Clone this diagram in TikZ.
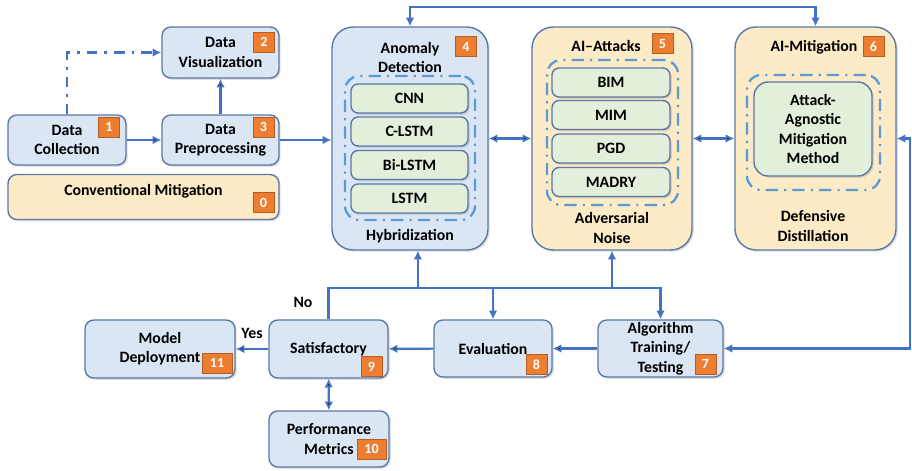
\documentclass[tikz,border=0pt]{standalone}
\usepackage{fontspec}
\setmainfont{Carlito}
\usetikzlibrary{arrows.meta,positioning,shadows}

\definecolor{boxblue}{HTML}{DAE6F4}
\definecolor{boxline}{HTML}{5A78A8}
\definecolor{boxyellow}{HTML}{FCEBC6}
\definecolor{boxgreen}{HTML}{E2EFDA}
\definecolor{badgeorange}{HTML}{ED7D31}
\definecolor{arrowblue}{HTML}{4472C4}
\definecolor{groupblue}{HTML}{5B9BD5}

\begin{document}
\begin{tikzpicture}[x=0.02cm,y=-0.02cm,
    font=\fontsize{9}{11}\selectfont\bfseries,
    box/.style={draw=boxline,line width=0.8pt,fill=boxblue,rounded corners=5pt,align=center,inner sep=0pt,
      drop shadow={shadow xshift=1pt,shadow yshift=-1pt,opacity=0.25}},
    panel/.style={box,rounded corners=12pt,minimum height=4.46cm},
    item/.style={box,fill=boxgreen,rounded corners=4pt,minimum width=2.34cm,minimum height=0.58cm},
    group/.style={draw=groupblue,line width=1.3pt,rounded corners=8pt,
      dash pattern=on 7pt off 3.5pt on 1.2pt off 3.5pt},
    badge/.style={fill=badgeorange,draw=badgeorange!75!black,line width=0.3pt,text=white,
      minimum width=0.42cm,minimum height=0.4cm,inner sep=0pt,font=\fontsize{8}{9}\selectfont\bfseries},
    arr/.style={draw=arrowblue,line width=1.2pt,-{Latex[length=5pt,width=5pt]}},
    darr/.style={arr,{Latex[length=5pt,width=5pt]}-{Latex[length=5pt,width=5pt]}},
    dasharr/.style={arr,dash pattern=on 6pt off 4pt on 1.5pt off 4pt}]
  \useasboundingbox (0,0) rectangle (912,470);

  % data handling, left part
  \node[box,minimum width=2.36cm,minimum height=1cm] (col) at (67,140) {Data\\Collection};
  \node[box,minimum width=2.34cm,minimum height=1.02cm] (vis) at (220.5,52.5) {Data\\Visualization};
  \node[box,minimum width=2.34cm,minimum height=1cm] (pre) at (220.5,140) {Data\\Preprocessing};
  \node[box,fill=boxyellow,minimum width=5.42cm,minimum height=0.9cm] (conv) at (143.5,197) {};
  \node (conv_t) at (143.5,191) {Conventional Mitigation};

  % detection panel
  \node[panel,minimum width=3.12cm] (anom) at (410,138.5) {};
  \node[align=center] (anom_t) at (410,57.5) {Anomaly\\Detection};
  \node (anom_b) at (410,236) {Hybridization};
  \node[group,minimum width=2.6cm,minimum height=2.88cm] (anom_g) at (410,148) {};
  \node[item] (cnn) at (409.5,98.5) {CNN};
  \node[item] (clstm) at (409.5,131.5) {C-LSTM};
  \node[item] (bilstm) at (409.5,165) {Bi-LSTM};
  \node[item] (lstm) at (409.5,198.5) {LSTM};

  % attacks panel
  \node[panel,fill=boxyellow,minimum width=3.2cm] (att) at (612,138.5) {};
  \node (att_t) at (606,46) {AI--Attacks};
  \node[align=center] (att_b) at (612,228) {Adversarial\\Noise};
  \node[group,minimum width=2.62cm,minimum height=2.9cm] (att_g) at (612.5,132.5) {};
  \node[item,minimum width=2.36cm] (bim) at (611,82.5) {BIM};
  \node[item,minimum width=2.36cm] (mim) at (611,115) {MIM};
  \node[item,minimum width=2.36cm] (pgd) at (611,148.5) {PGD};
  \node[item,minimum width=2.36cm] (madry) at (611,182) {MADRY};

  % mitigation panel
  \node[panel,fill=boxyellow,minimum width=3.22cm] (mit) at (815.5,138.5) {};
  \node (mit_t) at (814,47) {AI-Mitigation};
  \node[align=center] (mit_b) at (813,226) {Defensive\\Distillation};
  \node[group,minimum width=2.66cm,minimum height=2.3cm] (mit_g) at (813.5,132.5) {};
  \node[item,rounded corners=8pt,minimum width=2.36cm,minimum height=1.88cm] (method) at (813,129)
    {Attack-\\Agnostic\\Mitigation\\Method};

  % training loop, bottom row
  \node[box,minimum width=3cm,minimum height=1.16cm] (dep) at (160,349) {Model\\Deployment};
  \node[box,minimum width=2.38cm,minimum height=1.16cm] (sat) at (328.5,349) {Satisfactory};
  \node[box,minimum width=2.4cm,minimum height=1.12cm] (perf) at (329,439) {Performance\\Metrics};
  \node[box,minimum width=2.36cm,minimum height=1.14cm] (eva) at (493,348.5) {Evaluation};
  \node[box,minimum width=2.5cm,minimum height=1.14cm] (alg) at (660.5,348.5) {Algorithm\\Training/\\Testing};

  % step numbers
  \node[badge] (b_0) at (263.5,202.5) {0};
  \node[badge] (b_1) at (109,127) {1};
  \node[badge] (b_2) at (264,42) {2};
  \node[badge] (b_3) at (263.5,127) {3};
  \node[badge] (b_4) at (466,46.5) {4};
  \node[badge] (b_5) at (662.5,43.5) {5};
  \node[badge] (b_6) at (873.5,46.5) {6};
  \node[badge] (b_7) at (705.5,364) {7};
  \node[badge] (b_8) at (536.5,364.5) {8};
  \node[badge] (b_9) at (371.5,366.5) {9};
  \node[badge,minimum width=0.58cm] (b_10) at (371.5,449) {10};
  \node[badge,minimum width=0.6cm] (b_11) at (217,363) {11};

  \coordinate (bus) at (0,288);
  \coordinate (rt) at (910,0);
  \coordinate (anom_in) at ([xshift=4.5pt]anom.south);

  \draw[dasharr] (col.north) |- (vis.west);
  \draw[arr] (pre.east) -- (pre.east -| anom.west);
  \path[arr]
    (col) edge (pre)
    (pre) edge (vis)
    (alg) edge (eva)
    (eva) edge (sat)
    (sat) edge node[above=2pt] (yes) {Yes} (dep);
  \path[darr]
    (anom) edge (att)
    (att) edge (mit)
    (sat) edge (perf);
  \draw[darr] (anom.north) -- ++(0,-19) -| (mit.north);
  \draw[darr] (mit.east) -- (mit.east -| rt) |- (alg.east);

  % feedback from the satisfaction check
  \draw[arr] (sat.north) |- (alg.north |- bus) -- (alg.north);
  \draw[arr] (eva.north |- bus) -- (eva.north);
  \draw[arr] (att.south |- bus) -- (att.south);
  \draw[arr] (anom_in |- bus) -- (anom_in);
  \node (no) at (303,302) {No};
\end{tikzpicture}
\end{document}
